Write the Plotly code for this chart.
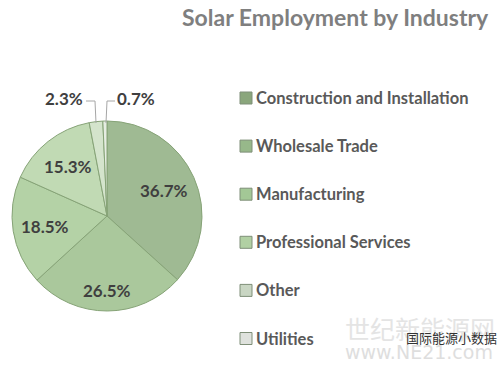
import math
import plotly.graph_objects as go

categories = ["Construction and Installation", "Wholesale Trade", "Manufacturing",
              "Professional Services", "Other", "Utilities"]
shares = [36.7, 26.5, 18.5, 15.3, 2.3, 0.7]
slice_colors = ["#9fba93", "#aac89c", "#b4d2a6", "#c1dab4", "#d4e4cc", "#e6ede2"]
legend_colors = ["#8aa67c", "#97b88a", "#a3c896", "#b1d0a3", "#c9d6c3", "#dfe2dd"]
title_text = "Solar Employment by Industry"

W, H = 500, 369
def px(x):
    return x / W
def py(y):
    return 1 - y / H

# pie geometry (pixels)
CX, CY, R = 107, 216, 95

fig = go.Figure()
fig.add_trace(go.Pie(
    labels=categories, values=shares, sort=False, direction="clockwise", rotation=0,
    marker=dict(colors=slice_colors, line=dict(color="#86a377", width=1)),
    textinfo="none",
    domain=dict(x=[px(CX - R), px(CX + R)], y=[py(CY + R), py(CY - R)]),
    showlegend=False, hoverinfo="label+percent",
))

annotations = []
shapes = []

# inside labels placed along each slice's mid-angle
total = sum(shares)
cum = 0.0
for i, v in enumerate(shares):
    mid = (cum + v / 2) / total * 2 * math.pi
    cum += v
    if v < 5:
        continue
    rf = 0.78 if abs(mid - math.pi) < 0.3 else 0.66
    x = CX + rf * R * math.sin(mid)
    y = CY - rf * R * math.cos(mid)
    annotations.append(dict(x=px(x), y=py(y), xref="paper", yref="paper",
                            xanchor="center", yanchor="middle",
                            text=f"<b>{v}%</b>", showarrow=False,
                            font=dict(family="Lato", size=17, color="#3f3f3f")))

# small slice labels with leader lines
small = [(4, 64, 98, [(86, 101), (95, 101), (96, 123)]),
         (5, 136, 98, [(115, 101), (107, 101), (106, 123)])]
for idx, cx, cy, pts in small:
    annotations.append(dict(x=px(cx), y=py(cy), xref="paper", yref="paper",
                            xanchor="center", yanchor="middle",
                            text=f"<b>{shares[idx]}%</b>", showarrow=False,
                            font=dict(family="Lato", size=17, color="#3f3f3f")))
    path = "M " + " L ".join(f"{px(x)},{py(y)}" for x, y in pts)
    shapes.append(dict(type="path", path=path, xref="paper", yref="paper",
                       line=dict(color="#a6a6a6", width=1)))

# legend
leg_y0, leg_dy = 98, 48.1
for i, (cat, col) in enumerate(zip(categories, legend_colors)):
    yc = leg_y0 + i * leg_dy
    shapes.append(dict(type="rect", xref="paper", yref="paper",
                       x0=px(240), x1=px(252), y0=py(yc - 6), y1=py(yc + 6),
                       fillcolor=col, line=dict(color="#7f8f78", width=1)))
    annotations.append(dict(x=px(254), y=py(yc), xref="paper", yref="paper",
                            xanchor="left", yanchor="middle", text=f"<b>{cat}</b>",
                            showarrow=False,
                            font=dict(family="Lato", size=16.5, color="#595959")))

# title
annotations.append(dict(x=px(491), y=py(17), xref="paper", yref="paper",
                        xanchor="right", yanchor="middle", text=f"<b>{title_text}</b>",
                        showarrow=False, font=dict(family="Lato", size=23, color="#7f7f7f")))

# watermark
annotations.append(dict(x=px(343), y=py(328), xref="paper", yref="paper",
                        xanchor="left", yanchor="middle",
                        text="世纪新能源网", showarrow=False,
                        font=dict(family="Noto Sans CJK SC", size=25, color="#e4e4e4")))
annotations.append(dict(x=px(343), y=py(352), xref="paper", yref="paper",
                        xanchor="left", yanchor="middle",
                        text="www.NE21.com", showarrow=False,
                        font=dict(family="DejaVu Sans", size=19, color="#dedede")))
annotations.append(dict(x=px(499), y=py(337), xref="paper", yref="paper",
                        xanchor="right", yanchor="middle",
                        text="国际能源小数据", showarrow=False,
                        font=dict(family="Noto Sans CJK SC", size=13, color="#333333")))

fig.update_layout(
    width=W, height=H, margin=dict(l=0, r=0, t=0, b=0),
    paper_bgcolor="white", plot_bgcolor="white",
    annotations=annotations, shapes=shapes, showlegend=False,
)

fig.write_html("out.html")
